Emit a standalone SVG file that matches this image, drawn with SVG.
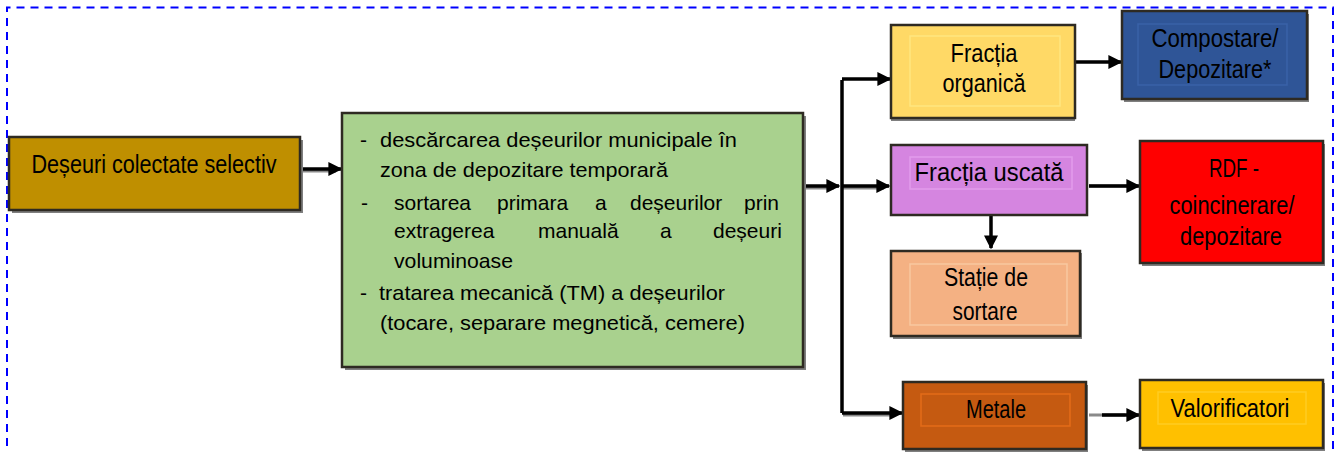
<svg xmlns="http://www.w3.org/2000/svg" width="1344" height="452" viewBox="0 0 1344 452">
<style>
.t{font-family:"Liberation Sans",Arial,sans-serif;font-size:25px;fill:#000;text-anchor:middle}
.g{font-family:"Liberation Sans",Arial,sans-serif;font-size:21px;fill:#000}
.box{stroke:#2e2a22;stroke-width:2.5}
.sh{fill:#7f7f7f}
.in{fill:none;stroke-width:1.5}
.c{fill:none;stroke:#000;stroke-width:3.5}
.cs{fill:none;stroke:#8a8a8a;stroke-width:3}
</style>
<defs>
<marker id="ah" viewBox="0 0 10 10" refX="9" refY="5" markerWidth="4" markerHeight="4" orient="auto" markerUnits="strokeWidth">
<path d="M0,0 L10,5 L0,10 Z" fill="#000"/>
</marker>
</defs>
<rect width="1344" height="452" fill="#fff"/>
<path d="M7,460 V7.5 H1333 V460" fill="none" stroke="#0000ff" stroke-width="2" stroke-dasharray="8,6"/>

<g id="connectors">
<path class="cs" d="M302,171 H336"/>
<path class="c" d="M302,169 H341" marker-end="url(#ah)"/>
<path class="cs" d="M804,188 H834"/>
<path class="c" d="M804,186 H839" marker-end="url(#ah)"/>
<path class="cs" d="M843,188 H884"/>
<path class="c" d="M842,186 H889" marker-end="url(#ah)"/>
<path class="c" d="M842,80 V413"/>
<path class="c" d="M842,79 H890" marker-end="url(#ah)"/>
<path class="cs" d="M843,415 H895"/>
<path class="c" d="M842,413 H902" marker-end="url(#ah)"/>
<path class="c" d="M1076,62 H1121" marker-end="url(#ah)"/>
<path class="cs" d="M1089,186 H1130"/>
<path class="c" d="M1089,186 H1139" marker-end="url(#ah)"/>
<path class="c" d="M991,216 V248" marker-end="url(#ah)"/>
<path class="cs" d="M1089,415 H1125"/>
<path class="c" d="M1102,415 H1139" marker-end="url(#ah)"/>
</g>

<g id="n-deseuri">
<rect class="sh" x="12" y="140" width="291" height="73"/>
<rect class="box" x="9" y="137" width="291" height="73" fill="#bf8f00"/>
<text class="t" x="154" y="173" textLength="245" lengthAdjust="spacingAndGlyphs">Deșeuri colectate selectiv</text>
</g>

<g id="n-proces">
<rect class="sh" x="345" y="116" width="461" height="254"/>
<rect class="box" x="342" y="113" width="461" height="254" fill="#a9d18e"/>
<text class="g" x="360" y="147">-</text>
<text class="g" x="380" y="147" textLength="357" lengthAdjust="spacingAndGlyphs">descărcarea deșeurilor municipale în</text>
<text class="g" x="380" y="177" textLength="288" lengthAdjust="spacingAndGlyphs">zona de depozitare temporară</text>
<text class="g" x="361" y="210">-</text>
<text class="g" y="210"><tspan x="394">sortarea</tspan><tspan x="497">primara</tspan><tspan x="595">a</tspan><tspan x="630">deșeurilor</tspan><tspan x="744">prin</tspan></text>
<text class="g" y="238"><tspan x="394">extragerea</tspan><tspan x="538">manuală</tspan><tspan x="660">a</tspan><tspan x="713">deșeuri</tspan></text>
<text class="g" x="394" y="268" textLength="119" lengthAdjust="spacingAndGlyphs">voluminoase</text>
<text class="g" x="360" y="300">-</text>
<text class="g" x="379" y="300" textLength="346" lengthAdjust="spacingAndGlyphs">tratarea mecanică (TM) a deșeurilor</text>
<text class="g" x="380" y="330" textLength="365" lengthAdjust="spacingAndGlyphs">(tocare, separare megnetică, cemere)</text>
</g>

<g id="n-organica">
<rect class="sh" x="891" y="28" width="184" height="93"/>
<rect class="box" x="891" y="25" width="184" height="93" fill="#ffd966"/>
<rect class="in" x="910" y="36" width="150" height="70" stroke="#ffe680"/>
<text class="t" x="984" y="62" textLength="67" lengthAdjust="spacingAndGlyphs">Fracția</text>
<text class="t" x="984" y="92" textLength="83" lengthAdjust="spacingAndGlyphs">organică</text>
</g>

<g id="n-compostare">
<rect class="sh" x="1124" y="14" width="185" height="88"/>
<rect class="box" x="1122" y="11" width="185" height="88" fill="#2f5597"/>
<rect class="in" x="1138" y="24" width="149" height="61" stroke="#3a62a8"/>
<text class="t" x="1215" y="47" textLength="127" lengthAdjust="spacingAndGlyphs">Compostare/</text>
<text class="t" x="1215" y="78" textLength="113" lengthAdjust="spacingAndGlyphs">Depozitare*</text>
</g>

<g id="n-uscata">
<rect class="box" x="891" y="145" width="196" height="70" fill="#d585e0"/>
<rect class="in" x="910" y="157" width="162" height="32" stroke="#e29ceb"/>
<text class="t" x="989" y="181" textLength="149" lengthAdjust="spacingAndGlyphs">Fracția uscată</text>
</g>

<g id="n-statie">
<rect class="sh" x="893" y="253" width="189" height="86"/>
<rect class="box" x="891" y="251" width="189" height="85" fill="#f4b183"/>
<rect class="in" x="910" y="264" width="157" height="61" stroke="#f8c8a0"/>
<text class="t" x="986" y="286" textLength="84" lengthAdjust="spacingAndGlyphs">Stație de</text>
<text class="t" x="985" y="320" textLength="65" lengthAdjust="spacingAndGlyphs">sortare</text>
</g>

<g id="n-rdf">
<rect class="sh" x="1142" y="144" width="183" height="122"/>
<rect class="box" x="1140" y="141" width="183" height="122" fill="#ff0000"/>
<text class="t" x="1234" y="177" textLength="50" lengthAdjust="spacingAndGlyphs">RDF -</text>
<text class="t" x="1232" y="214" textLength="125" lengthAdjust="spacingAndGlyphs">coincinerare/</text>
<text class="t" x="1231" y="245" textLength="102" lengthAdjust="spacingAndGlyphs">depozitare</text>
</g>

<g id="n-metale">
<rect class="sh" x="905" y="385" width="183" height="67"/>
<rect class="box" x="903" y="382" width="183" height="67" fill="#c55a11"/>
<rect class="in" x="921" y="394" width="149" height="32" stroke="#e46c18"/>
<text class="t" x="996" y="418" textLength="60" lengthAdjust="spacingAndGlyphs">Metale</text>
</g>

<g id="n-valorificatori">
<rect class="sh" x="1142" y="383" width="183" height="68"/>
<rect class="box" x="1140" y="380" width="183" height="68" fill="#ffc000"/>
<rect class="in" x="1158" y="392" width="148" height="32" stroke="#ffcc22"/>
<text class="t" x="1230" y="417" textLength="119" lengthAdjust="spacingAndGlyphs">Valorificatori</text>
</g>
</svg>
